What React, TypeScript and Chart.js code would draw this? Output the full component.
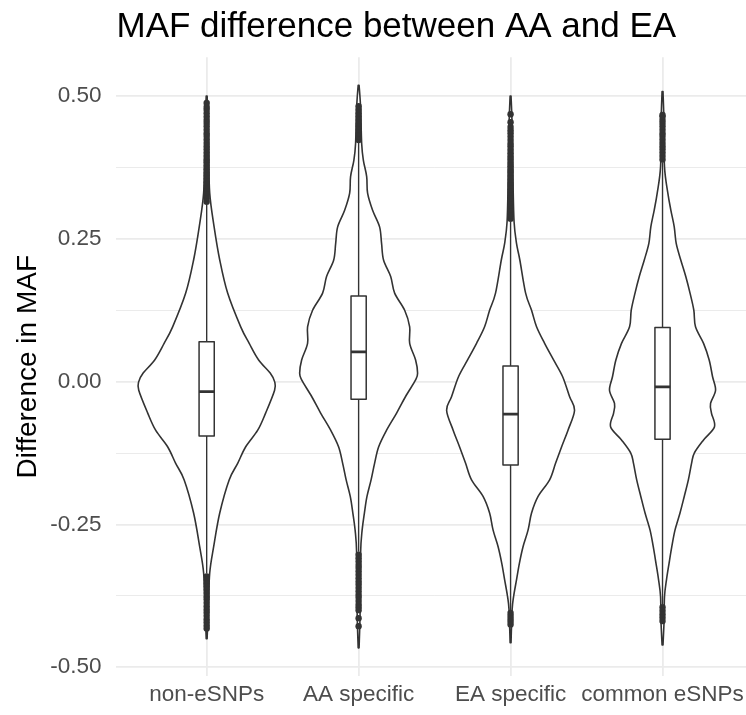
import { useEffect, useRef } from 'react';
import { Chart, registerables } from 'chart.js';

Chart.register(...registerables);

const FONT = '"Liberation Sans", Arial, Helvetica, sans-serif';

const chartTitle = 'MAF difference between AA and EA';
const yAxisTitle = 'Difference in MAF';
const categories = ['non-eSNPs', 'AA specific', 'EA specific', 'common eSNPs'];
const yTicks = [-0.5, -0.375, -0.25, -0.125, 0, 0.125, 0.25, 0.375, 0.5];

// Boxplot summaries per group
const q1 = [-0.095, -0.031, -0.146, -0.101];
const medians = [-0.0175, 0.052, -0.057, -0.009];
const q3 = [0.07, 0.15, 0.0275, 0.095];
const whiskerLow = [-0.336, -0.298, -0.4, -0.39];
const whiskerHigh = [0.31, 0.418, 0.28, 0.384];

// Violin density profiles: MAF level -> half width (in group-width units)
const nonEsnpsLevels = [0.5, 0.45, 0.4, 0.33, 0.271, 0.213, 0.155, 0.096, 0.067, 0.038, 0.015, 0.0, -0.015, -0.055, -0.085, -0.114, -0.143, -0.172, -0.23, -0.289, -0.335, -0.4, -0.45];
const nonEsnpsHalfWidth = [0.003, 0.01, 0.013, 0.02, 0.049, 0.086, 0.138, 0.224, 0.28, 0.342, 0.418, 0.447, 0.447, 0.388, 0.336, 0.257, 0.204, 0.148, 0.086, 0.046, 0.02, 0.01, 0.003];

const aaLevels = [0.519, 0.48, 0.417, 0.388, 0.359, 0.33, 0.3, 0.271, 0.242, 0.213, 0.184, 0.155, 0.125, 0.096, 0.067, 0.038, 0.015, 0.003, -0.026, -0.055, -0.085, -0.114, -0.143, -0.172, -0.201, -0.23, -0.26, -0.3, -0.4, -0.466];
const aaHalfWidth = [0.003, 0.013, 0.02, 0.031, 0.053, 0.059, 0.092, 0.138, 0.151, 0.164, 0.211, 0.237, 0.303, 0.336, 0.336, 0.375, 0.388, 0.375, 0.309, 0.25, 0.184, 0.132, 0.105, 0.082, 0.055, 0.038, 0.023, 0.013, 0.01, 0.003];

const eaLevels = [0.5, 0.45, 0.35, 0.28, 0.242, 0.213, 0.155, 0.125, 0.096, 0.067, 0.038, 0.009, -0.026, -0.05, -0.085, -0.114, -0.143, -0.172, -0.201, -0.23, -0.26, -0.289, -0.318, -0.347, -0.376, -0.4, -0.457];
const eaHalfWidth = [0.003, 0.01, 0.016, 0.023, 0.039, 0.061, 0.099, 0.138, 0.171, 0.224, 0.283, 0.342, 0.388, 0.421, 0.378, 0.336, 0.296, 0.257, 0.181, 0.138, 0.115, 0.082, 0.058, 0.039, 0.02, 0.01, 0.003];

const commonLevels = [0.508, 0.45, 0.376, 0.33, 0.3, 0.271, 0.242, 0.213, 0.184, 0.155, 0.125, 0.096, 0.067, 0.038, 0.009, -0.015, -0.038, -0.055, -0.079, -0.102, -0.125, -0.143, -0.172, -0.201, -0.23, -0.26, -0.289, -0.318, -0.347, -0.376, -0.42, -0.461];
const commonHalfWidth = [0.003, 0.01, 0.013, 0.035, 0.055, 0.077, 0.09, 0.12, 0.153, 0.181, 0.206, 0.217, 0.27, 0.307, 0.329, 0.349, 0.316, 0.322, 0.342, 0.27, 0.209, 0.191, 0.17, 0.143, 0.115, 0.082, 0.061, 0.043, 0.026, 0.013, 0.01, 0.003];

// Outlying values beyond the whiskers
const nonEsnpsOutliers = [
  0.315, 0.321, 0.326, 0.332, 0.338, 0.343, 0.349, 0.355, 0.361, 0.366, 0.372, 0.378, 0.384, 0.389, 0.395, 0.401,
  0.407, 0.412, 0.418, 0.424, 0.43, 0.435, 0.441, 0.447, 0.453, 0.458, 0.464, 0.47, 0.476, 0.481, 0.488,
  -0.341, -0.347, -0.353, -0.358, -0.364, -0.37, -0.376, -0.381, -0.387, -0.393, -0.399, -0.404, -0.41, -0.416,
  -0.421, -0.427, -0.432,
];
const aaOutliers = [
  0.423, 0.429, 0.435, 0.441, 0.447, 0.452, 0.458, 0.464, 0.47, 0.476, 0.482,
  -0.303, -0.309, -0.315, -0.321, -0.326, -0.332, -0.338, -0.344, -0.35, -0.355, -0.361, -0.367, -0.373, -0.378,
  -0.384, -0.39, -0.395, -0.4, -0.414, -0.428,
];
const eaOutliers = [
  0.285, 0.291, 0.297, 0.302, 0.308, 0.314, 0.32, 0.325, 0.331, 0.337, 0.343, 0.348, 0.354, 0.36, 0.366, 0.371,
  0.377, 0.383, 0.389, 0.394, 0.4, 0.406, 0.412, 0.417, 0.423, 0.429, 0.435, 0.44, 0.446, 0.454, 0.468,
  -0.405, -0.41, -0.415, -0.42, -0.425,
];
const commonOutliers = [
  0.389, 0.395, 0.401, 0.407, 0.412, 0.418, 0.424, 0.43, 0.435, 0.441, 0.447, 0.453, 0.458, 0.464, 0.467,
  -0.395, -0.401, -0.407, -0.413, -0.419,
];

const violins = [
  { levels: nonEsnpsLevels, half: nonEsnpsHalfWidth },
  { levels: aaLevels, half: aaHalfWidth },
  { levels: eaLevels, half: eaHalfWidth },
  { levels: commonLevels, half: commonHalfWidth },
];
const outlierGroups = [nonEsnpsOutliers, aaOutliers, eaOutliers, commonOutliers];

const BOX_HALF = 0.05;
const INK = '#333333';
const isMajor = (v: number) => Math.abs(v * 4 - Math.round(v * 4)) < 1e-6;

type Pt = [number, number];

// Catmull-Rom through a list of points (assumes the pen is at pts[0])
function splineThrough(ctx: CanvasRenderingContext2D, pts: Pt[]) {
  for (let i = 0; i < pts.length - 1; i++) {
    const p0 = pts[Math.max(i - 1, 0)];
    const p1 = pts[i];
    const p2 = pts[i + 1];
    const p3 = pts[Math.min(i + 2, pts.length - 1)];
    const c1x = p1[0] + (p2[0] - p0[0]) / 6;
    const c1y = p1[1] + (p2[1] - p0[1]) / 6;
    const c2x = p2[0] - (p3[0] - p1[0]) / 6;
    const c2y = p2[1] - (p3[1] - p1[1]) / 6;
    ctx.bezierCurveTo(c1x, c1y, c2x, c2y, p2[0], p2[1]);
  }
}

const violinBoxPlugin = {
  id: 'violinBox',
  beforeDatasetsDraw(chart: any) {
    const { ctx, chartArea, scales } = chart;
    const x = scales.x;
    const y = scales.y;
    ctx.save();
    ctx.beginPath();
    ctx.rect(chartArea.left, chartArea.top, chartArea.right - chartArea.left, chartArea.bottom - chartArea.top);
    ctx.clip();
    ctx.lineJoin = 'round';
    ctx.lineCap = 'butt';
    violins.forEach((v, i) => {
      const g = i + 1;
      const right: Pt[] = v.levels.map((lv, k) => [x.getPixelForValue(g + v.half[k]), y.getPixelForValue(lv)]);
      const left: Pt[] = v.levels
        .map((lv, k) => [x.getPixelForValue(g - v.half[k]), y.getPixelForValue(lv)] as Pt)
        .reverse();
      ctx.beginPath();
      ctx.moveTo(right[0][0], right[0][1]);
      splineThrough(ctx, right);
      ctx.lineTo(left[0][0], left[0][1]);
      splineThrough(ctx, left);
      ctx.closePath();
      ctx.fillStyle = '#ffffff';
      ctx.fill();
      ctx.strokeStyle = INK;
      ctx.lineWidth = 1.6;
      ctx.stroke();

      const cx = x.getPixelForValue(g);
      ctx.beginPath();
      ctx.moveTo(cx, y.getPixelForValue(q3[i]));
      ctx.lineTo(cx, y.getPixelForValue(whiskerHigh[i]));
      ctx.moveTo(cx, y.getPixelForValue(q1[i]));
      ctx.lineTo(cx, y.getPixelForValue(whiskerLow[i]));
      ctx.lineWidth = 1.4;
      ctx.stroke();

      const bl = x.getPixelForValue(g - BOX_HALF);
      const br = x.getPixelForValue(g + BOX_HALF);
      const bt = y.getPixelForValue(q3[i]);
      const bb = y.getPixelForValue(q1[i]);
      ctx.fillStyle = '#ffffff';
      ctx.fillRect(bl, bt, br - bl, bb - bt);
      ctx.lineWidth = 1.5;
      ctx.strokeRect(bl, bt, br - bl, bb - bt);

      const ym = y.getPixelForValue(medians[i]);
      ctx.beginPath();
      ctx.moveTo(bl, ym);
      ctx.lineTo(br, ym);
      ctx.lineWidth = 2.8;
      ctx.stroke();
    });
    ctx.restore();
  },
  afterDraw(chart: any) {
    const { ctx, chartArea } = chart;
    ctx.save();
    ctx.font = `35px ${FONT}`;
    ctx.fillStyle = '#000000';
    ctx.textAlign = 'left';
    ctx.textBaseline = 'alphabetic';
    ctx.fillText(chartTitle, chartArea.left + 1, 37);
    ctx.restore();
  },
};

export default function App() {
  const canvasRef = useRef<HTMLCanvasElement | null>(null);

  useEffect(() => {
    const canvas = canvasRef.current;
    if (!canvas) return;
    const points = outlierGroups.flatMap((vals, i) => vals.map((v) => ({ x: i + 1, y: v })));
    const chart = new Chart(canvas, {
      type: 'scatter',
      data: {
        datasets: [
          {
            data: points,
            pointRadius: 3.2,
            pointHoverRadius: 3.2,
            pointBackgroundColor: INK,
            pointBorderColor: INK,
            pointBorderWidth: 0,
            showLine: false,
          },
        ],
      },
      options: {
        responsive: false,
        animation: false,
        devicePixelRatio: 1,
        events: [],
        layout: { padding: { left: 0, right: 6.3, top: 57.2, bottom: 0 } },
        plugins: { legend: { display: false }, tooltip: { enabled: false }, title: { display: false } },
        scales: {
          x: {
            type: 'linear',
            min: 0.4,
            max: 4.6,
            afterBuildTicks: (s: any) => {
              s.ticks = categories.map((_, i) => ({ value: i + 1 }));
            },
            afterFit: (s: any) => {
              s.height = 38.6;
            },
            ticks: {
              autoSkip: false,
              maxRotation: 0,
              minRotation: 0,
              padding: 5,
              color: '#4d4d4d',
              font: { family: FONT, size: 22.5 },
              callback: (_v: any, idx: number) => categories[idx] ?? '',
            },
            grid: { color: '#ebebeb', lineWidth: 1.8, drawTicks: false },
            border: { display: false },
          },
          y: {
            type: 'linear',
            min: -0.516,
            max: 0.568,
            afterBuildTicks: (s: any) => {
              s.ticks = yTicks.map((v) => ({ value: v }));
            },
            afterFit: (s: any) => {
              s.width = 115.5;
            },
            ticks: {
              autoSkip: false,
              padding: 14,
              color: '#4d4d4d',
              font: { family: FONT, size: 22.5 },
              callback: (v: any) => (isMajor(Number(v)) ? Number(v).toFixed(2) : ''),
            },
            grid: {
              color: '#ebebeb',
              lineWidth: (c: any) => (c.tick && isMajor(c.tick.value) ? 1.8 : 1.0),
              drawTicks: false,
            },
            border: { display: false },
            title: {
              display: true,
              text: yAxisTitle,
              color: '#000000',
              font: { family: FONT, size: 28 },
              padding: { top: 11, bottom: 0 },
            },
          },
        },
      },
      plugins: [violinBoxPlugin],
    } as any);
    return () => chart.destroy();
  }, []);

  return (
    <div style={{ position: 'fixed', left: 0, top: 0, width: 760, height: 715, background: '#ffffff' }}>
      <canvas ref={canvasRef} width={760} height={715} style={{ display: 'block' }} />
    </div>
  );
}
